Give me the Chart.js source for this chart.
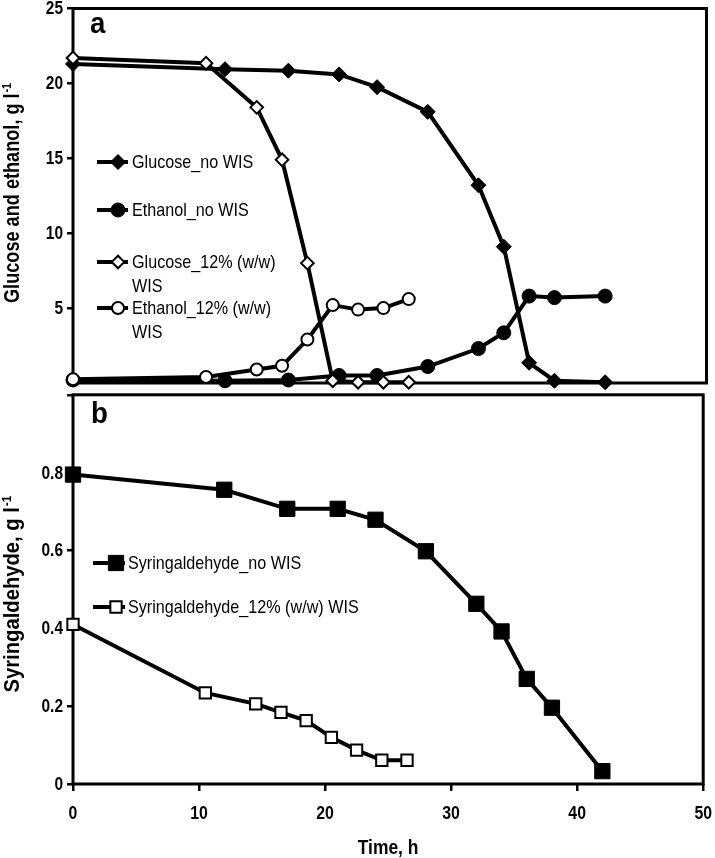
<!DOCTYPE html>
<html><head><meta charset="utf-8">
<script src="https://cdn.jsdelivr.net/npm/chart.js@4/dist/chart.umd.min.js"></script>
<style>
html,body{margin:0;padding:0;background:#fff;width:715px;height:858px;overflow:hidden}
#cA{position:absolute;left:0;top:0}
#cB{position:absolute;left:0;top:383px}
</style></head><body>
<canvas id="cA" width="715" height="392"></canvas>
<canvas id="cB" width="715" height="475"></canvas>
<script>
// ---------- data ----------
const timeNoWIS = [0, 12, 17, 21, 24, 28, 32, 34, 36, 38, 42];
const timeWIS = [0, 10.5, 14.5, 16.5, 18.5, 20.5, 22.5, 24.5, 26.5];
const glucoseNoWIS = [21.3, 20.95, 20.85, 20.6, 19.75, 18.1, 13.2, 9.1, 1.35, 0.15, 0.05];
const ethanolNoWIS = [0.2, 0.15, 0.2, 0.5, 0.5, 1.1, 2.3, 3.35, 5.8, 5.7, 5.8];
const glucoseWIS = [21.7, 21.35, 18.4, 14.9, 8.0, 0.15, 0.05, 0.05, 0.05];
const ethanolWIS = [0.25, 0.4, 0.9, 1.15, 2.9, 5.2, 4.9, 5.0, 5.6];
const syringNoWIS = [0.795, 0.756, 0.707, 0.707, 0.679, 0.598, 0.463, 0.392, 0.27, 0.196, 0.033];
const syringWIS = [0.41, 0.234, 0.206, 0.184, 0.163, 0.12, 0.087, 0.061, 0.061];
const namesA = ['Glucose_no WIS', 'Ethanol_no WIS', 'Glucose_12% (w/w)\nWIS', 'Ethanol_12% (w/w)\nWIS'];
const namesB = ['Syringaldehyde_no WIS', 'Syringaldehyde_12% (w/w) WIS'];
const xTickValues = [0, 10, 20, 30, 40, 50];
const xLabels = ['0', '10', '20', '30', '40', '50'];
const yTicksA = [0, 5, 10, 15, 20, 25];
const yLabelsA = ['', '5', '10', '15', '20', '25'];
const yTicksB = [0, 0.2, 0.4, 0.6, 0.8, 1.0];
const yLabelsB = ['0', '0.2', '0.4', '0.6', '0.8', ''];
const yTitleA = ['Glucose and ethanol, g l', '-1'];
const yTitleB = ['Syringaldehyde, g l', '-1'];
const xTitle = 'Time, h';

// ---------- helpers ----------
const FONT = '"Liberation Sans", Arial, sans-serif';
const pts = (xs, ys) => xs.map((x, i) => ({x: x, y: ys[i]}));
function series(label, xs, ys, style, radius, filled, order) {
  return {
    label: label, data: pts(xs, ys), borderColor: '#000', borderWidth: 4, tension: 0,
    pointStyle: style, pointRadius: radius, pointHoverRadius: radius,
    pointBackgroundColor: filled ? '#000' : '#fff', pointBorderColor: '#000',
    pointBorderWidth: filled ? 1 : 2, clip: false, order: order, fill: false
  };
}
function fixY(scale) { scale.width = 73; scale.paddingTop = 0; scale.paddingBottom = 0; }
// condensed text (narrow face emulated by horizontal scaling)
function ntext(ctx, s, x, y, font, align, baseline, sx) {
  ctx.save();
  ctx.font = font; ctx.textAlign = align; ctx.textBaseline = baseline; ctx.fillStyle = '#000';
  ctx.translate(x, y); ctx.scale(sx, 1); ctx.fillText(s, 0, 0);
  ctx.restore();
}

const decoPlugin = {
  id: 'deco',
  beforeDatasetsDraw(chart) {
    const {ctx, chartArea: a} = chart;
    ctx.save();
    ctx.strokeStyle = '#000'; ctx.lineWidth = 3;
    ctx.strokeRect(a.left, a.top, a.right - a.left, a.bottom - a.top);
    ctx.restore();
  },
  afterDatasetsDraw(chart, args, o) {
    const ctx = chart.ctx;
    const a = chart.chartArea;
    const TF = 'bold 18px ' + FONT;
    // y tick labels
    const ys = chart.scales.y;
    o.yTicks.forEach((v, i) => {
      if (o.yLabels[i]) ntext(ctx, o.yLabels[i], a.left - 10, ys.getPixelForValue(v) + 1, TF, 'right', 'middle', 0.86);
    });
    // x tick labels
    if (o.xLabels) {
      const xs = chart.scales.x;
      o.xTicks.forEach((v, i) => ntext(ctx, o.xLabels[i], xs.getPixelForValue(v), o.xLabelY, TF, 'center', 'middle', 0.88));
      ntext(ctx, o.xTitle, (a.left + a.right) / 2, o.xTitleY, 'bold 21px ' + FONT, 'center', 'middle', 0.83);
    }
    // panel letter
    ntext(ctx, o.panel, o.panelX, o.panelY, 'bold 30px ' + FONT, 'left', 'alphabetic', 0.92);
    // legend
    o.legend.forEach((it) => {
      const ds = chart.data.datasets[it.ds];
      ctx.save();
      ctx.strokeStyle = '#000'; ctx.lineWidth = 4;
      ctx.beginPath(); ctx.moveTo(o.lx1, it.y); ctx.lineTo(o.lx2, it.y); ctx.stroke();
      ctx.fillStyle = ds.pointBackgroundColor; ctx.strokeStyle = '#000'; ctx.lineWidth = ds.pointBorderWidth;
      Chart.helpers.drawPoint(ctx, {pointStyle: ds.pointStyle, radius: ds.pointRadius, rotation: 0, borderWidth: ds.pointBorderWidth}, o.mx, it.y);
      ctx.restore();
      ds.label.split('\n').forEach((ln, k) => ntext(ctx, ln, o.tx, it.y + 1 + k * 24, '19px ' + FONT, 'left', 'middle', 0.85));
    });
    // rotated y title with superscript, fitted to its length
    ctx.save();
    ctx.fillStyle = '#000';
    ctx.translate(o.titleX, o.titleY);
    ctx.rotate(-Math.PI / 2);
    const mainF = 'bold 22px ' + FONT, supF = 'bold 13px ' + FONT;
    ctx.font = mainF; const w1 = ctx.measureText(o.title[0]).width;
    ctx.font = supF; const w2 = ctx.measureText(o.title[1]).width;
    const sx = o.titleLen / (w1 + w2 + 1);
    ctx.scale(sx, 1);
    const x0 = -(w1 + w2 + 1) / 2;
    ctx.textBaseline = 'alphabetic'; ctx.textAlign = 'left';
    ctx.font = mainF; ctx.fillText(o.title[0], x0, 0);
    ctx.font = supF; ctx.fillText(o.title[1], x0 + w1 + 1, -8);
    ctx.restore();
  }
};

// ---------- panel a ----------
new Chart(document.getElementById('cA'), {
  type: 'line',
  data: { datasets: [
    series(namesA[0], timeNoWIS, glucoseNoWIS, 'rectRot', 7.5, true, 2),
    series(namesA[1], timeNoWIS, ethanolNoWIS, 'circle', 7, true, 3),
    series(namesA[2], timeWIS, glucoseWIS, 'rectRot', 6.3, false, 0),
    series(namesA[3], timeWIS, ethanolWIS, 'circle', 6, false, 1)
  ]},
  options: {
    responsive: false, animation: false, events: [],
    layout: {padding: {left: 0, right: 7, top: 7, bottom: 9}},
    plugins: {
      legend: {display: false}, tooltip: {enabled: false},
      deco: {
        panel: 'a', panelX: 90, panelY: 33,
        lx1: 97, lx2: 128, mx: 118, tx: 132,
        legend: [{ds: 0, y: 162}, {ds: 1, y: 210}, {ds: 2, y: 262}, {ds: 3, y: 308}],
        title: yTitleA, titleX: 19, titleY: 193, titleLen: 220,
        yTicks: yTicksA, yLabels: yLabelsA
      }
    },
    scales: {
      x: {type: 'linear', min: 0, max: 50, display: false},
      y: {
        type: 'linear', min: 0, max: 25,
        afterBuildTicks: s => { s.ticks = yTicksA.map(v => ({value: v})); },
        afterFit: fixY,
        ticks: {display: false},
        grid: {drawOnChartArea: false, drawTicks: true, tickLength: 6, color: '#000', lineWidth: 2.5},
        border: {display: false}
      }
    }
  },
  plugins: [decoPlugin]
});

// ---------- panel b ----------
new Chart(document.getElementById('cB'), {
  type: 'line',
  data: { datasets: [
    series(namesB[0], timeNoWIS, syringNoWIS, 'rect', 10.8, true, 1),
    series(namesB[1], timeWIS, syringWIS, 'rect', 8, false, 0)
  ]},
  options: {
    responsive: false, animation: false, events: [],
    layout: {padding: {left: 0, right: 7, top: 8, bottom: 0}},
    plugins: {
      legend: {display: false}, tooltip: {enabled: false},
      deco: {
        panel: 'b', panelX: 91, panelY: 40,
        lx1: 93, lx2: 125, mx: 116, tx: 128,
        legend: [{ds: 0, y: 180}, {ds: 1, y: 224}],
        title: yTitleB, titleX: 19, titleY: 211, titleLen: 197,
        yTicks: yTicksB, yLabels: yLabelsB,
        xTicks: xTickValues, xLabels: xLabels, xLabelY: 431,
        xTitle: xTitle, xTitleY: 465
      }
    },
    scales: {
      x: {
        type: 'linear', min: 0, max: 50,
        afterBuildTicks: s => { s.ticks = xTickValues.map(v => ({value: v})); },
        afterFit: s => { s.height = 74; s.paddingLeft = 0; s.paddingRight = 0; },
        ticks: {display: false},
        grid: {drawOnChartArea: false, drawTicks: true, tickLength: 7, color: '#000', lineWidth: 2.5},
        border: {display: false}
      },
      y: {
        type: 'linear', min: 0, max: 1.0,
        afterBuildTicks: s => { s.ticks = yTicksB.map(v => ({value: v})); },
        afterFit: fixY,
        ticks: {display: false},
        grid: {drawOnChartArea: false, drawTicks: true, tickLength: 6, color: '#000', lineWidth: 2.5},
        border: {display: false}
      }
    }
  },
  plugins: [decoPlugin]
});
</script>
</body></html>
